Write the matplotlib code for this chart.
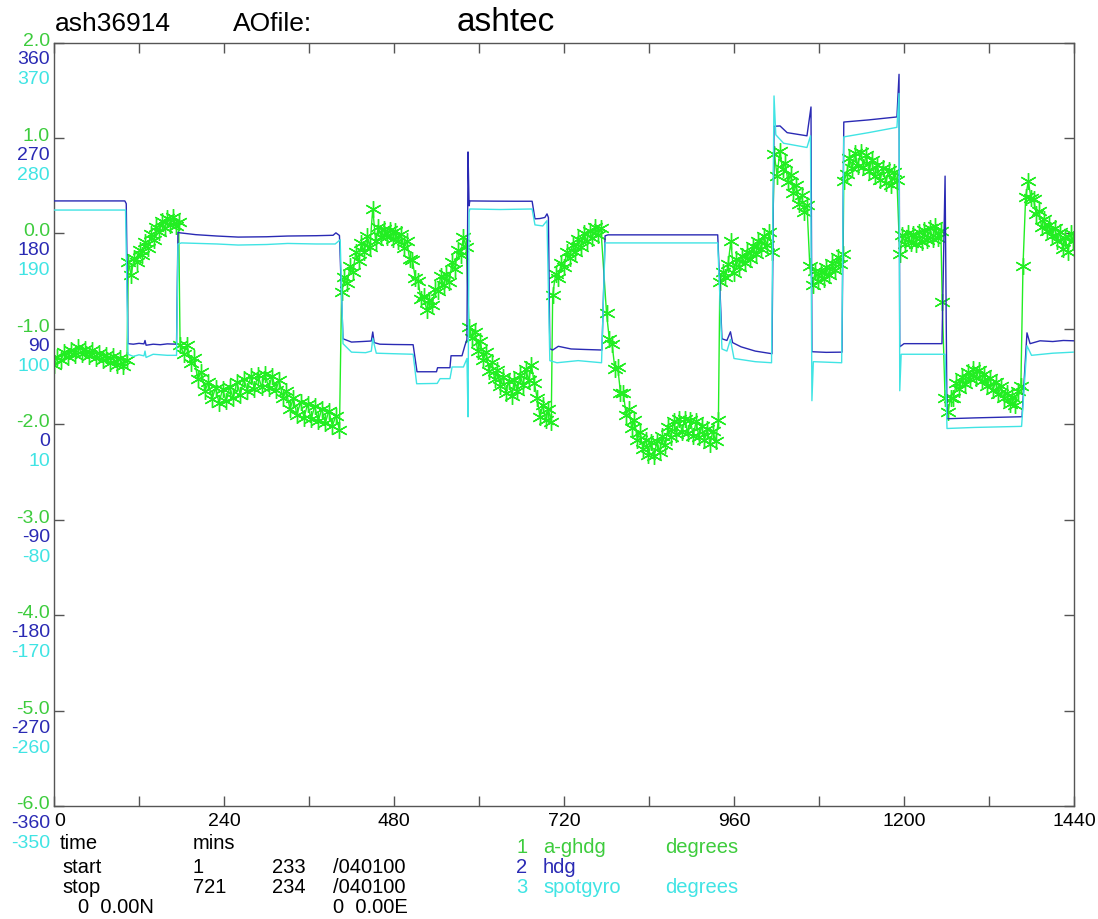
import numpy as np
import matplotlib
matplotlib.use("Agg")
import matplotlib.pyplot as plt
from matplotlib import transforms

plt.rcParams['font.family'] = ['Liberation Sans', 'DejaVu Sans']

# ====================
# Data (time in minutes)
# ====================
# a-ghdg (left green scale), sampled in segments: (start, end) + values
green_spans = [(0, 103), (105, 176), (178, 403), (406, 582), (586, 702),
               (704, 772), (780, 938), (940, 1014), (1017, 1063), (1067, 1114),
               (1115, 1190), (1194, 1252), (1254, 1365), (1368, 1439)]
green_vals = [
    [-1.38, -1.30, -1.33, -1.24, -1.30, -1.22, -1.27, -1.19, -1.26, -1.21, -1.29,
     -1.22, -1.31, -1.25, -1.33, -1.27, -1.36, -1.29, -1.38, -1.31, -1.39, -1.33],
    [-0.30, -0.44, -0.26, -0.30, -0.17, -0.23, -0.09, -0.15, -0.01, -0.07, 0.07,
     0.01, 0.13, 0.06, 0.16, 0.09, 0.17, 0.08, 0.12],
    [-1.17, -1.26, -1.17, -1.36, -1.31, -1.53, -1.45, -1.65, -1.56, -1.74, -1.62,
     -1.78, -1.63, -1.76, -1.61, -1.73, -1.56, -1.69, -1.53, -1.65, -1.49, -1.63,
     -1.48, -1.61, -1.47, -1.62, -1.49, -1.64, -1.54, -1.73, -1.65, -1.84, -1.73,
     -1.90, -1.77, -1.93, -1.79, -1.95, -1.81, -1.97, -1.84, -1.99, -1.86, -2.02,
     -1.91, -2.06],
    [-0.61, -0.46, -0.52, -0.34, -0.40, -0.20, -0.29, -0.10, -0.20, -0.03, -0.14,
     0.26, -0.08, 0.07, -0.04, 0.05, -0.04, 0.04, -0.06, 0.02, -0.08, -0.01,
     -0.15, -0.08, -0.27, -0.28, -0.47, -0.50, -0.69, -0.66, -0.80, -0.70, -0.75,
     -0.58, -0.60, -0.45, -0.54, -0.43, -0.51, -0.30, -0.37, -0.17, -0.23, -0.04,
     -0.14],
    [-0.98, -1.10, -1.03, -1.23, -1.13, -1.33, -1.24, -1.44, -1.35, -1.53, -1.43,
     -1.60, -1.50, -1.67, -1.55, -1.70, -1.54, -1.65, -1.48, -1.59, -1.42, -1.54,
     -1.38, -1.57, -1.72, -1.92, -1.80, -1.96, -1.84, -1.98],
    [-0.65, -0.43, -0.47, -0.31, -0.35, -0.19, -0.26, -0.12, -0.19, -0.06, -0.14,
     0.00, -0.08, 0.03, -0.05, 0.07, -0.02, 0.06],
    [-0.83, -1.11, -1.16, -1.42, -1.40, -1.67, -1.67, -1.90, -1.84, -2.04, -1.96,
     -2.16, -2.08, -2.26, -2.16, -2.32, -2.19, -2.33, -2.18, -2.29, -2.12, -2.22,
     -2.03, -2.13, -1.97, -2.10, -1.95, -2.08, -1.94, -2.09, -1.96, -2.12, -1.97,
     -2.13, -2.02, -2.17, -2.05, -2.21, -2.07, -2.18, -1.96],
    [-0.51, -0.40, -0.46, -0.32, -0.08, -0.41, -0.27, -0.35, -0.24, -0.31, -0.20,
     -0.27, -0.13, -0.22, -0.08, -0.16, -0.03, -0.12, 0.01, -0.20],
    [0.83, 0.60, 0.86, 0.67, 0.74, 0.54, 0.61, 0.42, 0.51, 0.31, 0.40, 0.22, 0.30],
    [-0.34, -0.54, -0.39, -0.50, -0.40, -0.48, -0.35, -0.44, -0.31, -0.38, -0.25,
     -0.32, -0.22],
    [0.55, 0.62, 0.79, 0.68, 0.84, 0.71, 0.85, 0.70, 0.82, 0.65, 0.77, 0.60, 0.72,
     0.56, 0.69, 0.53, 0.66, 0.51, 0.64, 0.56],
    [-0.22, -0.02, -0.11, 0.00, -0.10, -0.01, -0.11, 0.01, -0.09, 0.04, -0.07,
     0.06, -0.06, 0.08, -0.05, 0.03],
    [-0.72, -1.72, -1.87, -1.72, -1.72, -1.57, -1.63, -1.51, -1.58, -1.45, -1.53,
     -1.42, -1.52, -1.43, -1.55, -1.47, -1.60, -1.52, -1.64, -1.56, -1.68, -1.60,
     -1.73, -1.67, -1.79, -1.71, -1.80, -1.65, -1.60],
    [-0.34, 0.38, 0.55, 0.37, 0.36, 0.20, 0.23, 0.07, 0.15, 0.02, 0.09, -0.03,
     0.06, -0.08, 0.01, -0.16, -0.05, -0.19, 0.00, -0.08],
]

# hdg (degrees, blue scale)
hdg_t = [0, 100, 102, 104.5, 112, 120, 127, 128.5, 130, 140, 150, 160, 173, 175,
         178, 200, 230, 260, 300, 330, 370, 394, 398, 403, 408, 420, 435, 448,
         450, 452, 460, 480, 507, 512.5, 540, 541.5, 559, 560.5, 576, 580, 583,
         584.5, 586, 587, 620, 650, 675, 679, 686, 693, 696, 698, 700, 704, 712,
         730, 750, 773.6, 778, 782, 850, 937, 943, 950, 955, 958, 970, 990,
         1013.6, 1016.5, 1025, 1035, 1063, 1068.7, 1070, 1090, 1112.5, 1115,
         1150, 1190, 1193, 1194, 1200, 1253.6, 1258, 1260.7, 1300, 1330, 1366.6,
         1373.6, 1378, 1392, 1410, 1425, 1439]
hdg_v = [210.6, 210.6, 208, 76, 75.5, 76.3, 75.8, 79, 74.5, 75.5, 75, 75.8, 75.5,
         181, 180.5, 178.8, 177.5, 176.5, 176.8, 177.5, 177.8, 178.2, 180.5, 178,
         80.6, 77.5, 78, 78.5, 87, 77, 75.5, 75.2, 75, 49.5, 49.5, 53.3, 53.3,
         64.6, 64.6, 74, 80, 256.8, 206, 210.6, 210.4, 210.3, 210.3, 193.7, 194,
         195, 198.4, 195, 71.2, 70, 73.5, 71, 70.5, 70, 177.7, 178.6, 178.6,
         178.6, 80.6, 79, 87.2, 77, 73, 69, 66.5, 281, 281.3, 275, 272, 299.2,
         68.4, 67.8, 68, 285, 287, 289.8, 330, 73, 76, 76, 234, 5.2, 6, 6.5, 7.1,
         86.2, 76, 78.7, 78, 79, 78.7]

# spotgyro (degrees, cyan scale)
spot_t = [0, 101, 104.5, 112, 120, 127, 128.5, 130, 140, 160, 173, 175, 180, 230,
          260, 300, 330, 370, 397, 404, 408, 420, 440, 448, 450, 455, 480, 507,
          512, 541, 545, 559, 562, 578, 583, 584.5, 586, 587, 630, 675, 679, 690,
          696, 700, 710, 740, 773, 778, 850, 937, 943, 950, 955, 960, 990, 1013,
          1016.5, 1019, 1030, 1063, 1068, 1070, 1072, 1112, 1115, 1150, 1190,
          1193, 1194, 1196, 1253, 1258, 1260.7, 1300, 1366, 1373.6, 1380, 1410,
          1439]
spot_v = [212, 212, 76, 74, 75.5, 74.5, 79, 73, 76, 75, 75, 180, 181, 180, 179,
          179.5, 180.5, 180, 180, 184, 86, 78, 77.5, 79, 91, 77, 76.5, 76, 48.2,
          48.5, 53, 53, 64, 64, 72, 17, 210, 213, 212.5, 213, 198, 197, 202, 70,
          68, 70, 68, 181, 181, 181, 81, 79, 90, 72, 69, 68, 319.6, 283, 275, 271,
          282, 32.2, 69, 68, 281, 285, 290, 322, 41.6, 76, 76, 76, 6, 7, 8, 84,
          75, 77, 78]

green_ticks = [2.0, 1.0, 0.0, -1.0, -2.0, -3.0, -4.0, -5.0, -6.0]
hdg_ticks = [360, 270, 180, 90, 0, -90, -180, -270, -360]
spot_ticks = [370, 280, 190, 100, 10, -80, -170, -260, -350]
x_ticks = list(range(0, 1441, 120))

GREEN = '#22ee22'
GREEN_TXT = '#3dcc3d'
BLUE = '#2a2ab4'
CYAN = '#40e4e4'

W, H = 1098, 920


def fxy(x, y):
    return x / W, 1 - y / H


fig = plt.figure(figsize=(W / 100, H / 100), dpi=100)
ax = fig.add_axes([54 / W, 1 - 807 / H, 1020 / W, (807 - 43.5) / H])

# series, all drawn on the a-ghdg scale
gt = np.concatenate([np.linspace(a, b, len(v)) for (a, b), v in zip(green_spans, green_vals)])
gv = np.concatenate([np.array(v) for v in green_vals])
ax.plot(gt, gv, color=GREEN, lw=1.0, marker=(6, 2, 0), markersize=12,
        markeredgewidth=1.0, zorder=2)
ax.plot(hdg_t, (np.array(hdg_v) - 180) / 90, color=BLUE, lw=1.0, zorder=3)
ax.plot(spot_t, (np.array(spot_v) - 190) / 90, color=CYAN, lw=1.0, zorder=3)

ax.set_xlim(0, 1440)
ax.set_ylim(-6, 2)

for s in ax.spines.values():
    s.set_color('#555555')
    s.set_linewidth(1.0)

ax.set_xticks(x_ticks)
ax.set_xticklabels([str(t) if t % 240 == 0 else '' for t in x_ticks], fontsize=14)
ax.get_xticklabels()[0].set_ha('left')
ax.set_yticks(green_ticks)
ax.set_yticklabels([])
ax.tick_params(axis='both', direction='in', length=7.5, width=1.0, color='#555555',
               top=True, right=True, pad=4)

# three stacked y scales
ytr = ax.get_yaxis_transform()
for g, h, s in zip(green_ticks, hdg_ticks, spot_ticks):
    for txt, col, dy in [(f'{g:.1f}', GREEN_TXT, -2), (str(h), BLUE, -21), (str(s), CYAN, -41)]:
        tr = transforms.offset_copy(ytr, fig=fig, x=-4, y=dy, units='dots')
        ax.text(0, g, txt, transform=tr, ha='right', va='baseline', color=col, fontsize=14)

# header
fig.text(*fxy(55, 31), 'ash36914', fontsize=19, va='baseline')
fig.text(*fxy(233, 31), 'AOfile:', fontsize=19, va='baseline')
fig.text(*fxy(457, 31), 'ashtec', fontsize=24, va='baseline')

# footer info
info = [
    (60, 849, 'time'), (193, 849, 'mins'),
    (62, 873, 'start'), (193, 873, '1'), (272, 873, '233'), (333, 873, '/040100'),
    (62, 893, 'stop'), (193, 893, '721'), (272, 893, '234'), (333, 893, '/040100'),
    (78, 913, '0  0.00N'), (333, 913, '0  0.00E'),
]
for x, y, txt in info:
    fig.text(*fxy(x, y), txt, fontsize=14.5, va='baseline')

legend_rows = [('1', 'a-ghdg', 'degrees', GREEN_TXT),
               ('2', 'hdg', '', BLUE),
               ('3', 'spotgyro', 'degrees', CYAN)]
for i, (num, name, unit, col) in enumerate(legend_rows):
    y = 853 + 20 * i
    fig.text(*fxy(516, y), num, fontsize=14.5, va='baseline', color=col)
    fig.text(*fxy(543, y), name, fontsize=14.5, va='baseline', color=col)
    fig.text(*fxy(665, y), unit, fontsize=14.5, va='baseline', color=col)

fig.savefig('out.png', dpi=100)
